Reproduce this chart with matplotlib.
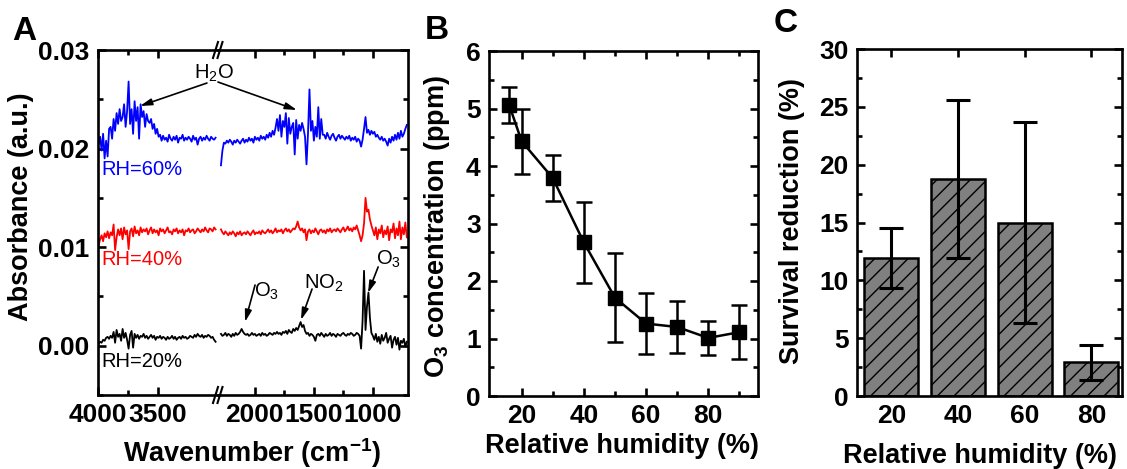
import numpy as np
import matplotlib
matplotlib.use('Agg')
import matplotlib.pyplot as plt
from matplotlib.ticker import FixedLocator, MultipleLocator, FormatStrFormatter
from matplotlib.lines import Line2D

plt.rcParams['font.family'] = ['Liberation Sans', 'DejaVu Sans']
plt.rcParams['font.weight'] = 'bold'
plt.rcParams['hatch.linewidth'] = 1.0

# ---------------- Panel A data (absorbance in units of 1e-4) ----------------
wn_left_start, wn_right_start, wn_step = 3995.0, 2285.0, 12.5

blue_left = [205, 212, 198, 215, 190, 208, 192, 220,
             222, 210, 230, 218, 236, 225, 240, 228,
             232, 245, 222, 238, 268, 225,
             240, 215, 248, 228, 242, 210, 245,
             232, 238, 222, 235, 228, 226, 230, 220,
             225, 215, 220, 212, 214, 208,
             213, 209, 211, 207, 214, 210, 208, 212, 209, 213, 206, 211,
             210, 214, 208, 211, 209, 212, 210, 207, 213, 209, 211, 204,
             210, 212, 208, 211, 209, 213, 210, 208, 212, 210, 209, 211]
blue_right = [183, 198, 206,
              205, 208, 206, 209, 207, 204, 208, 206, 209, 207,
              205, 208, 210, 206, 209, 207, 211, 208, 210, 206,
              212, 209, 211, 208, 213, 210, 212, 209,
              214, 211, 216, 212, 218, 214, 221,
              230, 218, 234, 212, 228, 222, 236, 205, 231, 215,
              222, 226, 194, 229, 210, 224, 218, 226,
              220, 212, 184, 215, 260,
              218, 228, 208, 222, 212, 242, 210, 230, 214,
              214, 210, 216, 212, 209, 213, 215, 211, 208, 212,
              214, 210, 213, 211, 209, 212, 210, 213, 208, 211,
              209, 212, 207, 210, 208,
              202, 209, 220, 232,
              216, 219, 214, 218, 215, 217, 212, 214,
              211, 209, 212, 208, 210, 207, 203,
              210, 206, 212, 208, 214, 209,
              216, 210, 218, 212, 215, 220, 224]

red_left = [102, 108, 112, 106, 114, 110, 116, 109, 115, 112,
            123, 97, 110,
            118, 112, 119, 108, 120, 113, 117, 98,
            116, 119, 111, 121, 114, 117, 112, 120, 115, 118,
            116, 119, 113, 117, 120, 114, 118, 115,
            117, 112, 119, 116, 118, 114, 117, 120,
            115, 116, 113, 118, 116, 119, 114, 117,
            115, 118, 112, 117, 116, 119, 115, 117,
            118, 114, 116, 119, 117, 115, 118, 116,
            120, 117, 115, 119, 118, 116, 120, 118]
red_right = [118, 115, 113, 116, 114, 112, 115, 113, 116, 114,
             111, 115, 113, 116, 112, 114, 115, 113, 116, 114,
             112, 115, 117, 113, 115, 114, 116, 113, 117, 115,
             114, 116, 118, 115, 117, 114, 116, 119, 115, 117,
             116, 118, 114, 117, 119, 116, 118, 115, 117, 119,
             118, 121, 126, 120, 117, 119, 115, 118, 107,
             116, 118, 114, 117, 115, 119, 116, 113, 117, 118,
             115, 117, 114, 118, 116, 119, 115, 117, 118, 116,
             119, 117, 115, 118, 120, 116, 118, 121, 117, 119,
             116, 120, 118, 122, 117, 112,
             106, 112, 124, 150, 136, 138, 128, 122, 117,
             112, 120, 108, 118, 114, 122, 110, 117, 113, 121,
             107, 118, 115, 124, 109, 119, 112, 126, 108, 120,
             113, 125, 110]

black_left = [2, 4, 3, 6, 5, 8, 9, 7, 10, 8,
              14, 3, 16, 9, 12, 5, 17, 8, 13, 6, -3, 11, 15, -2, 12,
              8, 11, 7, 10, 9, 12, 8, 10, 7, 9,
              11, 8, 10, 6, 9, 8, 10, 7, 9, 8,
              6, 9, 7, 8, 10, 7, 9, 6, 8, 9,
              7, 10, 8, 9, 7, 8, 10, 9, 8, 11,
              9, 12, 10, 9, 11, 8, 10, 9, 11, 10,
              8, 9, 6, 4]
black_right = [12, 10, 11, 13, 10, 12, 11, 9, 12, 10, 13, 11, 12, 14,
               17, 14, 12, 11,
               12, 10, 11, 13, 11, 12, 10, 11, 12, 10,
               13, 11, 12, 10, 11, 13, 12, 11, 13, 12,
               14, 12, 13, 11, 14,
               13, 15, 12, 16, 14, 13, 17, 15, 18, 16, 20,
               24, 19, 21,
               15, 12, 13, 10, 12, 11, 9, 5,
               11, 12, 10, 13, 11, 9, 12, 10, 11, 13,
               10, 12, 11, 9, 12, 11, 10, 12, 13, 11,
               10, 12, 11, 13, 12, 10, 11, 13, 12, 10,
               -3, 25, 76, 16, 40, 54, 28, 13,
               10, 6, 12, 4, 9, 2, 11, 5, 8, 13,
               3, 7, 10, -2, 6, 9, 1, 8, -4, 5,
               3, 7, -1, 4]

# ---------------- Panel B data ----------------
rh_B = [16, 20, 30, 40, 50, 60, 70, 80, 90]
o3_B = [5.06, 4.43, 3.79, 2.67, 1.71, 1.26, 1.20, 1.01, 1.11]
o3_err_B = [0.32, 0.57, 0.40, 0.70, 0.77, 0.53, 0.46, 0.29, 0.47]

# ---------------- Panel C data ----------------
rh_C = [20, 40, 60, 80]
surv_C = [11.9, 18.75, 15.0, 2.9]
surv_err_C = [2.6, 6.8, 8.7, 1.5]

W, H = 1127, 469
fig = plt.figure(figsize=(W / 100, H / 100), dpi=100)


def px_axes(x0, x1, ytop, ybot):
    return fig.add_axes([x0 / W, 1 - ybot / H, (x1 - x0) / W, (ybot - ytop) / H])


def style(ax):
    ax.tick_params(which='both', direction='in', width=1.9, labelsize=19, pad=6)
    ax.tick_params(which='major', length=6)
    ax.tick_params(which='minor', length=3.5)
    for s in ax.spines.values():
        s.set_linewidth(1.9)


# ---------------- Panel A ----------------
axL = px_axes(98, 218, 50, 395)
axR = px_axes(218, 408, 50, 395)
for ax in (axL, axR):
    ax.patch.set_visible(False)

wnL = wn_left_start - wn_step * np.arange(len(blue_left))
wnR = wn_right_start - wn_step * np.arange(len(blue_right))
scale = 1e-4
for ax, wn, series in [(axL, wnL, (blue_left, red_left, black_left)),
                       (axR, wnR, (blue_right, red_right, black_right))]:
    for vals, col in zip(series, ['#0000ff', '#ff0000', 'black']):
        wn_s = wn[:len(vals)]
        ax.plot(wn_s, np.array(vals[:len(wn_s)]) * scale, color=col, lw=1.3)

for ax in (axL, axR):
    ax.set_ylim(-0.005, 0.03)
    style(ax)
axL.set_xlim(4000, 3000)
axR.set_xlim(2310, 700)

axL.xaxis.set_major_locator(FixedLocator([4000, 3500]))
axL.xaxis.set_minor_locator(FixedLocator([3750]))
axR.xaxis.set_major_locator(FixedLocator([2000, 1500, 1000]))
axR.xaxis.set_minor_locator(FixedLocator([1750, 1250]))
for ax in (axL, axR):
    ax.yaxis.set_major_locator(MultipleLocator(0.01))
    ax.yaxis.set_minor_locator(MultipleLocator(0.005))
    ax.yaxis.set_major_formatter(FormatStrFormatter('%.2f'))
axL.spines['right'].set_visible(False)
axR.spines['left'].set_visible(False)
axL.tick_params(which='both', top=True, right=False, left=True, bottom=True)
axR.tick_params(which='both', top=True, right=True, left=False, bottom=True,
                labelleft=False)

# break marks
for ybrk in (50, 395):
    for dx in (-2.5, 2.0):
        xs = [218 + dx - 2.5, 218 + dx + 2.5]
        ys = [ybrk + 8, ybrk - 8]
        fig.add_artist(Line2D([x / W for x in xs], [1 - y / H for y in ys],
                              transform=fig.transFigure, color='black', lw=1.5))

# series labels
axL.text(3975, 0.0179, 'RH=60%', color='#0000ff', fontsize=14.5, fontweight='normal',
         va='center', ha='left')
axL.text(3975, 0.0087, 'RH=40%', color='#ff0000', fontsize=14.5, fontweight='normal',
         va='center', ha='left')
axL.text(3975, -0.00165, 'RH=20%', color='black', fontsize=14.5, fontweight='normal',
         va='center', ha='left')

arrow_kw = dict(arrowstyle='-|>,head_length=0.7,head_width=0.2', color='black', lw=1.2,
                shrinkA=0, shrinkB=0)
axL.text(3033, 0.02767, r'H$_\mathregular{2}$O', fontsize=14.5, fontweight='normal',
         ha='center', va='center', zorder=10)
axL.annotate('', xy=(3650, 0.02432), xytext=(3092, 0.02665), arrowprops=arrow_kw,
             annotation_clip=False)
axL.annotate('', xy=(1641, 0.02391), xycoords=axR.transData,
             xytext=(3000, 0.02675), textcoords=axL.transData,
             arrowprops=arrow_kw, annotation_clip=False)

axR.text(1895, 0.00555, r'O$_\mathregular{3}$', fontsize=14.5, fontweight='normal',
         ha='center', va='center')
axR.annotate('', xy=(2081, 0.00241), xytext=(1996, 0.00616), arrowprops=arrow_kw)
axR.text(1412, 0.00636, r'NO$_\mathregular{2}$', fontsize=14.5, fontweight='normal',
         ha='center', va='center')
axR.annotate('', xy=(1607, 0.00261), xytext=(1513, 0.00575), arrowprops=arrow_kw)
axR.text(861, 0.0088, r'O$_\mathregular{3}$', fontsize=14.5, fontweight='normal',
         ha='center', va='center', clip_on=False)
axR.annotate('', xy=(1039, 0.00535), xytext=(953, 0.00799), arrowprops=arrow_kw)

fig.text(21.5 / W, 1 - 207 / H, 'Absorbance (a.u.)', rotation=90, fontsize=19.5,
         ha='center', va='center')
fig.text(252 / W, 1 - 453 / H, r'Wavenumber (cm$^\mathregular{-1}$)', fontsize=19.5,
         ha='center', va='center')

# ---------------- Panel B ----------------
axB = px_axes(489, 758, 51, 396)
axB.errorbar(rh_B, o3_B, yerr=o3_err_B, fmt='-s', color='black', ms=9.5, lw=1.8,
             elinewidth=1.8, capsize=5.5, capthick=1.8)
axB.set_xlim(9.5, 96)
axB.set_ylim(0, 6)
style(axB)
axB.tick_params(which='both', top=True, right=True)
axB.xaxis.set_major_locator(FixedLocator([20, 40, 60, 80]))
axB.xaxis.set_minor_locator(FixedLocator([30, 50, 70, 90]))
axB.yaxis.set_major_locator(MultipleLocator(1))
axB.yaxis.set_minor_locator(MultipleLocator(0.5))
fig.text(437 / W, 1 - 226 / H, r'O$_\mathregular{3}$ concentration (ppm)', rotation=90,
         fontsize=19.5, ha='center', va='center')
fig.text(622 / W, 1 - 446 / H, 'Relative humidity (%)', fontsize=19.5,
         ha='center', va='center')

# ---------------- Panel C ----------------
axC = px_axes(857, 1122, 49, 396)
axC.bar(rh_C, surv_C, width=16.2, color='#808080', edgecolor='black', lw=1.8,
        hatch='//', zorder=2)
axC.errorbar(rh_C, surv_C, yerr=surv_err_C, fmt='none', ecolor='black',
             elinewidth=2.2, capsize=8.6, capthick=2.2, zorder=3)
axC.set_xlim(9.7, 89.2)
axC.set_ylim(0, 30)
style(axC)
axC.tick_params(which='both', top=True, right=True)
axC.xaxis.set_major_locator(FixedLocator([20, 40, 60, 80]))
axC.yaxis.set_major_locator(MultipleLocator(5))
axC.yaxis.set_minor_locator(MultipleLocator(2.5))
fig.text(792 / W, 1 - 221 / H, 'Survival reduction (%)', rotation=90,
         fontsize=19.5, ha='center', va='center')
fig.text(980 / W, 1 - 456 / H, 'Relative humidity (%)', fontsize=19.5,
         ha='center', va='center')

# panel letters
fig.text(24 / W, 1 - 31 / H, 'A', fontsize=24, ha='center', va='center')
fig.text(437 / W, 1 - 30 / H, 'B', fontsize=24, ha='center', va='center')
fig.text(786 / W, 1 - 23 / H, 'C', fontsize=24, ha='center', va='center')

fig.savefig('out.png', dpi=100)
